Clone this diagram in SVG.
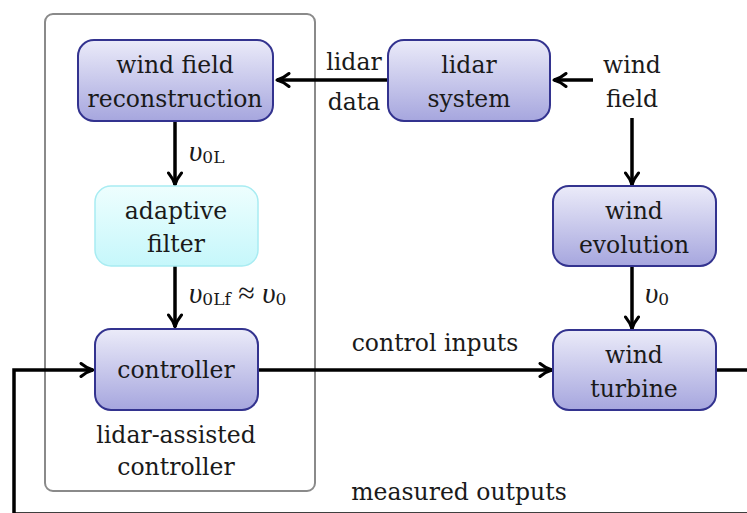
<svg xmlns="http://www.w3.org/2000/svg" width="747" height="513" viewBox="0 0 747 513">
<defs>
<linearGradient id="gb" x1="0" y1="0" x2="0" y2="1">
<stop offset="0" stop-color="#ebebf9"/>
<stop offset="1" stop-color="#a6a6de"/>
</linearGradient>
<linearGradient id="gc" x1="0" y1="0" x2="0" y2="1">
<stop offset="0" stop-color="#eefefe"/>
<stop offset="1" stop-color="#c6f7fb"/>
</linearGradient>
<marker id="ah" markerWidth="16" markerHeight="16" viewBox="0 0 16 16" refX="14" refY="8" orient="auto" markerUnits="userSpaceOnUse">
<path d="M2,1.5 Q8,6.5 14,8 Q8,9.5 2,14.5" fill="none" stroke="#000" stroke-width="3" stroke-linecap="round" stroke-linejoin="round"/>
</marker>
</defs>
<style>
.blk{fill:url(#gb);stroke:#33338f;stroke-width:2}
.cy{fill:url(#gc);stroke:#a8ecf2;stroke-width:1.5}
.t{font-family:"DejaVu Serif","Liberation Serif",serif;font-size:23.5px;fill:#1a1a1a;text-anchor:middle}
.m{font-family:"Liberation Serif",serif;font-size:29px;font-style:italic;fill:#1a1a1a}
.s{font-family:"DejaVu Serif","Liberation Serif",serif;font-size:17px;font-style:normal}
.c{fill:none;stroke:#000;stroke-width:3.5}
</style>
<rect x="0" y="0" width="747" height="513" fill="#fff"/>
<rect id="frame" x="45" y="14" width="270" height="477" rx="8" fill="none" stroke="#8a8a8a" stroke-width="2"/>
<g id="connectors">
<line class="c" x1="388" y1="80" x2="277" y2="80" marker-end="url(#ah)"/>
<line class="c" x1="593" y1="80" x2="554" y2="80" marker-end="url(#ah)"/>
<line class="c" x1="632" y1="118" x2="632" y2="185" marker-end="url(#ah)"/>
<line class="c" x1="175" y1="121" x2="175" y2="185" marker-end="url(#ah)"/>
<line class="c" x1="175" y1="266" x2="175" y2="327" marker-end="url(#ah)"/>
<line class="c" x1="632" y1="266" x2="632" y2="329" marker-end="url(#ah)"/>
<line class="c" x1="258" y1="370" x2="552" y2="370" marker-end="url(#ah)"/>
<path class="c" d="M716,370 H750 M750,514 H14 V370 H93" marker-end="url(#ah)"/>
</g>
<g id="wfr">
<rect class="blk" x="78" y="40" width="195" height="81" rx="16"/>
<text class="t" x="175" y="73">wind field</text>
<text class="t" x="175" y="107">reconstruction</text>
</g>
<g id="filter">
<rect class="cy" x="95" y="186" width="163" height="80" rx="16"/>
<text class="t" x="176" y="219">adaptive</text>
<text class="t" x="176" y="252">filter</text>
</g>
<g id="controller">
<rect class="blk" x="95" y="329" width="163" height="81" rx="16"/>
<text class="t" x="176" y="378">controller</text>
</g>
<g id="lidar">
<rect class="blk" x="388" y="40" width="162" height="81" rx="16"/>
<text class="t" x="469" y="73">lidar</text>
<text class="t" x="469" y="107">system</text>
</g>
<g id="evolution">
<rect class="blk" x="553" y="186" width="163" height="80" rx="16"/>
<text class="t" x="634" y="219">wind</text>
<text class="t" x="634" y="253">evolution</text>
</g>
<g id="turbine">
<rect class="blk" x="553" y="330" width="163" height="80" rx="16"/>
<text class="t" x="634" y="363">wind</text>
<text class="t" x="634" y="397">turbine</text>
</g>
<g id="labels">
<text class="t" x="632" y="73">wind</text>
<text class="t" x="632" y="107">field</text>
<text class="t" x="354" y="70">lidar</text>
<text class="t" x="354" y="110">data</text>
<text class="m" x="189" y="161">υ<tspan class="s" dy="2">0L</tspan></text>
<text class="m" x="189" y="303">υ<tspan class="s" dy="2">0Lf</tspan><tspan dy="-2" font-style="normal" font-size="30"> ≈ </tspan>υ<tspan class="s" dy="2">0</tspan></text>
<text class="m" x="645" y="303">υ<tspan class="s" dy="2">0</tspan></text>
<text class="t" x="435" y="351">control inputs</text>
<text class="t" x="176" y="443">lidar-assisted</text>
<text class="t" x="176" y="475">controller</text>
<text class="t" x="459" y="500">measured outputs</text>
</g>
</svg>
